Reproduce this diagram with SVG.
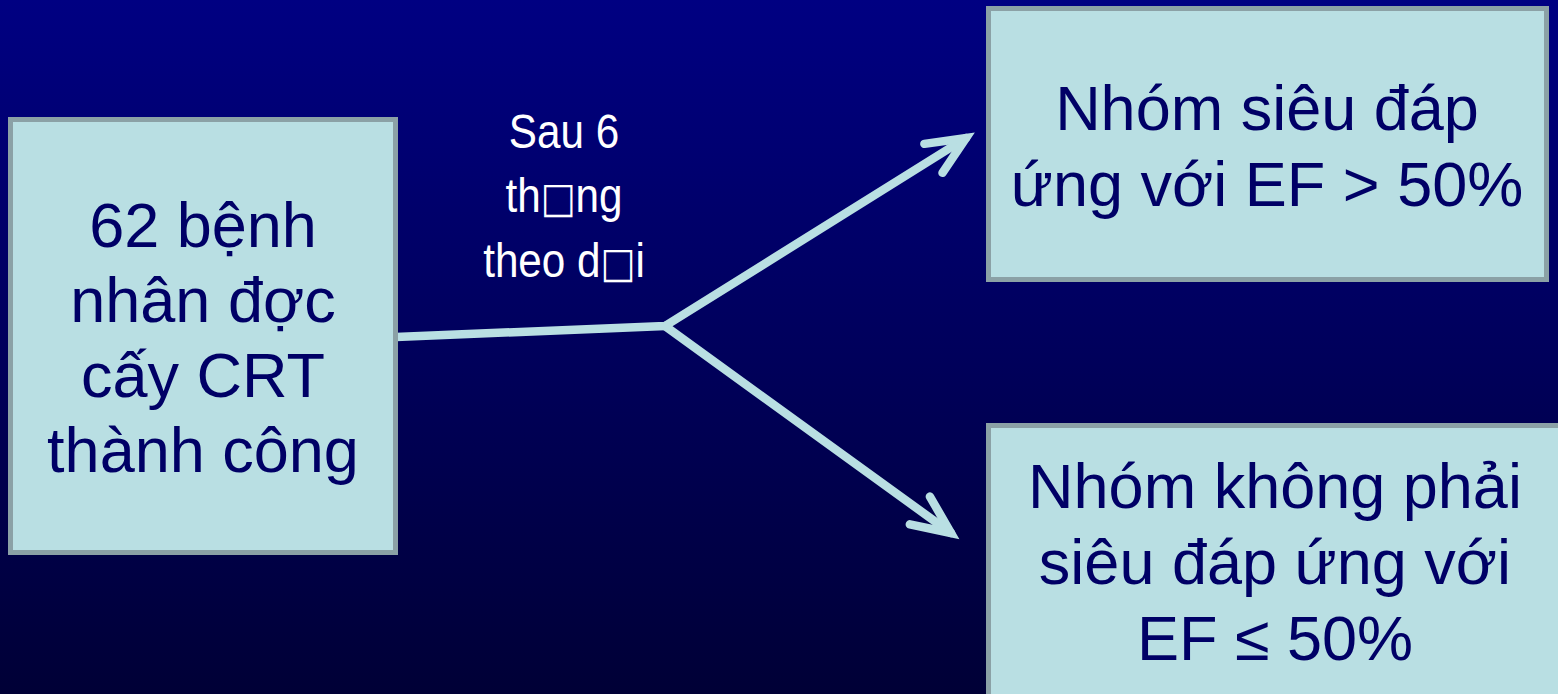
<svg xmlns="http://www.w3.org/2000/svg" width="1558" height="694" viewBox="0 0 1558 694">
<defs>
<linearGradient id="bg" x1="0" y1="0" x2="0" y2="1">
<stop offset="0" stop-color="#000082"/>
<stop offset="1" stop-color="#000036"/>
</linearGradient>
<marker id="arr" markerUnits="userSpaceOnUse" viewBox="-50 -30 60 60" markerWidth="60" markerHeight="60" refX="0" refY="0" orient="auto" overflow="visible">
<path d="M-38.4,-17.1 L0,0 L-38.4,17.1" fill="none" stroke="#B9DFE3" stroke-width="8.5" stroke-linecap="round" stroke-linejoin="miter"/>
</marker>
<style>
.box{fill:#B9DFE3;stroke:#8BA1A6;stroke-width:5}
.t{font-family:"Liberation Sans",Arial,sans-serif;font-size:63px;fill:#000066;text-anchor:middle}
.lbl{font-family:"Liberation Sans",Arial,sans-serif;font-size:48px;fill:#FFFFFF;text-anchor:middle}
.tofu{font-family:"DejaVu Sans",sans-serif;font-size:42px}
.con{fill:none;stroke:#B9DFE3;stroke-width:8.5;stroke-linecap:round;stroke-linejoin:round}
</style>
</defs>
<rect x="0" y="0" width="1558" height="694" fill="url(#bg)"/>
<g id="connectors">
<path class="con" d="M396,337 L665,326 L966,138" marker-end="url(#arr)"/>
<path class="con" d="M665,326 L951,533" marker-end="url(#arr)"/>
</g>
<g id="label">
<g transform="translate(564,0) scale(0.88,1)">
<text class="lbl" x="0" y="148">Sau 6</text>
<text class="lbl" x="0" y="212">th<tspan class="tofu">□</tspan>ng</text>
<text class="lbl" x="0" y="277">theo d<tspan class="tofu">□</tspan>i</text>
</g>
</g>
<g id="node-source">
<rect class="box" x="10.5" y="119.5" width="385" height="433"/>
<text class="t" x="203" y="247">62 bệnh</text>
<text class="t" x="203" y="322">nhân đợc</text>
<text class="t" x="203" y="397">cấy CRT</text>
<text class="t" x="203" y="472">thành công</text>
</g>
<g id="node-super">
<rect class="box" x="988.5" y="8.5" width="558" height="271"/>
<text class="t" x="1267" y="130">Nhóm siêu đáp</text>
<text class="t" x="1267" y="206">ứng với EF &gt; 50%</text>
</g>
<g id="node-nonsuper">
<rect class="box" x="988.5" y="425.5" width="578" height="280"/>
<text class="t" x="1275" y="508">Nhóm không phải</text>
<text class="t" x="1275" y="584">siêu đáp ứng với</text>
<text class="t" x="1275" y="660">EF ≤ 50%</text>
</g>
</svg>
